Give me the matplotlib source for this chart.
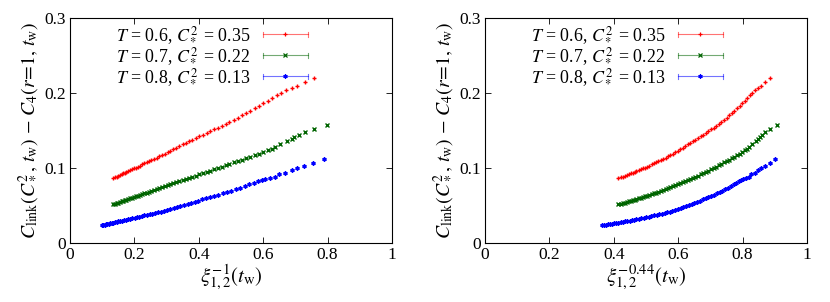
import matplotlib
matplotlib.use("Agg")
import matplotlib.pyplot as plt
import numpy as np
from matplotlib.lines import Line2D
from matplotlib.legend_handler import HandlerBase

plt.rcParams['font.family'] = ['Liberation Serif', 'DejaVu Serif']
plt.rcParams['mathtext.fontset'] = 'stix'

# xi^{-1}_{1,2}(t_w) values and C_link - C_4 values
red_xi = [0.135,0.140,0.145,0.150,0.155,0.160,0.165,0.170,0.175,0.180,0.186,0.192,0.198,0.204,0.210,
          0.217,0.224,0.231,0.238,0.245,0.253,0.261,0.269,0.277,0.285,0.294,0.303,0.312,0.321,0.330,
          0.340,0.350,0.360,0.370,0.380,0.391,0.402,0.413,0.424,0.435,0.447,0.459,0.471,0.483,0.495,
          0.508,0.521,0.534,0.547,0.560,0.573,0.586,0.600,0.614,0.628,0.642,0.656,0.672,0.688,0.705,
          0.730,0.757]
red_c = [0.0865,0.0875,0.0886,0.0896,0.0906,0.0916,0.0927,0.0937,0.0947,0.0957,0.0970,0.0982,0.0994,0.1006,0.1019,
         0.1033,0.1048,0.1062,0.1077,0.1091,0.1107,0.1124,0.1140,0.1157,0.1173,0.1192,0.1212,0.1231,0.1251,0.1270,
         0.1292,0.1314,0.1335,0.1357,0.1379,0.1402,0.1424,0.1446,0.1468,0.1490,0.1514,0.1538,0.1562,0.1586,0.1611,
         0.1641,0.1672,0.1702,0.1732,0.1763,0.1795,0.1828,0.1862,0.1897,0.1932,0.1970,0.2000,0.2036,0.2072,0.2100,
         0.2145,0.2200]

green_xi = [0.135,0.140,0.145,0.150,0.155,0.160,0.165,0.170,0.175,0.180,0.186,0.192,0.198,0.204,0.210,
            0.217,0.224,0.231,0.238,0.245,0.253,0.261,0.269,0.277,0.285,0.294,0.303,0.312,0.321,0.330,
            0.340,0.350,0.360,0.370,0.380,0.391,0.402,0.413,0.424,0.435,0.447,0.459,0.471,0.483,0.495,
            0.508,0.521,0.534,0.547,0.560,0.573,0.586,0.600,0.614,0.626,0.638,0.652,0.673,0.688,0.697,
            0.711,0.730,0.758,0.799]
green_c = [0.0515,0.0523,0.0530,0.0538,0.0546,0.0554,0.0561,0.0569,0.0577,0.0584,0.0594,0.0603,0.0612,0.0621,0.0630,
           0.0641,0.0652,0.0662,0.0673,0.0684,0.0696,0.0708,0.0721,0.0733,0.0745,0.0758,0.0771,0.0784,0.0797,0.0810,
           0.0825,0.0840,0.0854,0.0869,0.0883,0.0900,0.0916,0.0933,0.0949,0.0965,0.0983,0.1001,0.1019,0.1037,0.1055,
           0.1074,0.1093,0.1112,0.1131,0.1150,0.1171,0.1192,0.1214,0.1237,0.1260,0.1285,0.1316,0.1355,0.1390,0.1418,
           0.1440,0.1476,0.1520,0.1580]

blue_xi = [0.100,0.104,0.108,0.112,0.116,0.120,0.125,0.130,0.135,0.140,0.145,0.150,0.156,0.162,0.168,
           0.174,0.180,0.187,0.194,0.201,0.208,0.215,0.223,0.231,0.239,0.247,0.256,0.265,0.274,0.283,
           0.292,0.302,0.312,0.322,0.332,0.343,0.354,0.365,0.376,0.387,0.399,0.411,0.423,0.435,0.448,
           0.461,0.474,0.487,0.500,0.514,0.528,0.542,0.556,0.570,0.584,0.595,0.606,0.621,0.637,0.650,
           0.668,0.688,0.704,0.727,0.756,0.789]
blue_c = [0.0237,0.0241,0.0245,0.0249,0.0253,0.0257,0.0262,0.0267,0.0272,0.0277,0.0282,0.0287,0.0292,0.0298,0.0304,
          0.0310,0.0316,0.0323,0.0330,0.0337,0.0344,0.0351,0.0359,0.0367,0.0375,0.0382,0.0391,0.0400,0.0409,0.0418,
          0.0429,0.0442,0.0455,0.0467,0.0480,0.0494,0.0508,0.0522,0.0536,0.0551,0.0566,0.0581,0.0597,0.0612,0.0629,
          0.0646,0.0662,0.0679,0.0697,0.0718,0.0739,0.0760,0.0781,0.0802,0.0823,0.0838,0.0848,0.0865,0.0886,0.0914,
          0.0938,0.0980,0.0996,0.1030,0.1070,0.1120]

labels = [r'$T$ = 0.6, $C_*^2$ = 0.35', r'$T$ = 0.7, $C_*^2$ = 0.22', r'$T$ = 0.8, $C_*^2$ = 0.13']
exponent_right = 0.44
xlabels = [r'$\xi^{-1}_{1,2}(t_{\mathrm{w}})$', r'$\xi^{-0.44}_{1,2}(t_{\mathrm{w}})$']
ylabel = r'$C_{\mathrm{link}}(C_*^2,\,t_{\mathrm{w}})$ $-$ $C_4(r\!=\!1,\,t_{\mathrm{w}})$'

colors = ['#ff0000', '#006400', '#0000ff']
markers = ['+', 'x', (6, 2, 0)]
series = [(red_xi, red_c), (green_xi, green_c), (blue_xi, blue_c)]


class ErrHandler(HandlerBase):
    def create_artists(self, legend, orig_handle, xdescent, ydescent, width, height, fontsize, trans):
        c = orig_handle.get_color()
        m = orig_handle.get_marker()
        y = height / 2 - ydescent
        x0, x1 = -xdescent, width - xdescent
        h = 2.0
        arts = [Line2D([x0, x1], [y, y], color=c, lw=0.8, alpha=0.55),
                Line2D([x0, x0], [y - h, y + h], color=c, lw=0.8, alpha=0.55),
                Line2D([x1, x1], [y - h, y + h], color=c, lw=0.8, alpha=0.55),
                Line2D([(x0 + x1) / 2], [y], color=c, marker=m, ms=3.0, mew=0.9, ls='none')]
        for a in arts:
            a.set_transform(trans)
        return arts


fig = plt.figure(figsize=(8.30, 3.02), dpi=100)
axes = [fig.add_axes([70 / 830, 59 / 302, 322 / 830, 225 / 302]),
        fig.add_axes([485 / 830, 59 / 302, 322 / 830, 225 / 302])]

for k, ax in enumerate(axes):
    handles = []
    for (xs, ys), col, mk, lab in zip(series, colors, markers, labels):
        xv = np.array(xs) if k == 0 else np.array(xs) ** exponent_right
        ln, = ax.plot(xv, ys, ls='none', marker=mk, color=col, ms=3.0, mew=1.0, label=lab)
        handles.append(ln)
    ax.set_xlim(0, 1)
    ax.set_ylim(0, 0.3)
    ax.set_xticks([0, 0.2, 0.4, 0.6, 0.8, 1])
    ax.set_xticklabels(['0', '0.2', '0.4', '0.6', '0.8', '1'])
    ax.set_yticks([0, 0.1, 0.2, 0.3])
    ax.set_yticklabels(['0', '0.1', '0.2', '0.3'])
    ax.tick_params(direction='in', top=True, right=True, length=4, width=0.6, labelsize=12.5, pad=3)
    for s in ax.spines.values():
        s.set_linewidth(0.8)
    ax.set_xlabel(xlabels[k], fontsize=15, labelpad=0)
    ax.set_ylabel(ylabel, fontsize=14.2, labelpad=3)
    ax.legend(handles=handles, handler_map={h: ErrHandler() for h in handles},
              loc='upper left', bbox_to_anchor=(0.12, 1.0), frameon=False, markerfirst=False,
              fontsize=12.9, handlelength=2.5, handletextpad=0.7, labelspacing=0.0,
              borderaxespad=0.0)

fig.savefig('out.png', dpi=100)
